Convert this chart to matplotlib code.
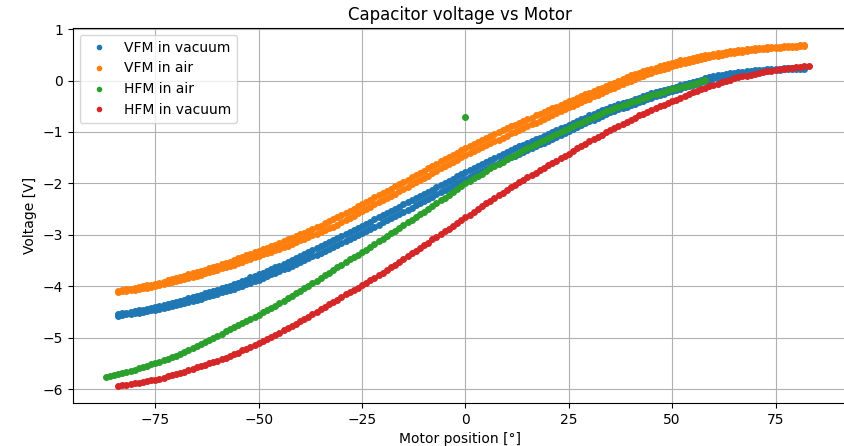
import matplotlib.pyplot as plt
import numpy as np

# motor positions [deg], scans were taken in 1 degree steps
pos_vfm = np.arange(-84, 83)
pos_hfm_air = np.arange(-87, 59)
pos_hfm_vac = np.arange(-84, 84)

# VFM in vacuum, up and down sweep (small hysteresis between them)
vfm_vac_up = [
    -4.55, -4.53, -4.52, -4.50, -4.49, -4.47, -4.46, -4.44, -4.43, -4.41,
    -4.39, -4.37, -4.34, -4.32, -4.30, -4.28, -4.26, -4.23, -4.21, -4.19,
    -4.17, -4.14, -4.12, -4.09, -4.07, -4.04, -4.01, -3.99, -3.96, -3.93,
    -3.90, -3.87, -3.83, -3.80, -3.77, -3.74, -3.70, -3.67, -3.63, -3.60,
    -3.56, -3.52, -3.49, -3.45, -3.41, -3.37, -3.33, -3.30, -3.26, -3.22,
    -3.18, -3.14, -3.10, -3.06, -3.02, -2.98, -2.94, -2.91, -2.87, -2.83,
    -2.79, -2.75, -2.70, -2.66, -2.62, -2.58, -2.54, -2.49, -2.45, -2.41,
    -2.37, -2.33, -2.28, -2.24, -2.20, -2.16, -2.12, -2.07, -2.03, -1.99,
    -1.95, -1.91, -1.86, -1.82, -1.78, -1.74, -1.70, -1.66, -1.62, -1.58,
    -1.54, -1.50, -1.47, -1.43, -1.39, -1.35, -1.32, -1.28, -1.25, -1.21,
    -1.18, -1.14, -1.11, -1.07, -1.04, -1.00, -0.97, -0.93, -0.90, -0.86,
    -0.82, -0.79, -0.75, -0.72, -0.68, -0.65, -0.62, -0.58, -0.55, -0.52,
    -0.49, -0.46, -0.44, -0.41, -0.39, -0.36, -0.33, -0.30, -0.28, -0.25,
    -0.23, -0.21, -0.18, -0.16, -0.14, -0.12, -0.09, -0.07, -0.04, -0.02,
    0.00, 0.02, 0.05, 0.07, 0.09, 0.10, 0.11, 0.13, 0.14, 0.15,
    0.16, 0.17, 0.18, 0.19, 0.20, 0.21, 0.21, 0.22, 0.22, 0.23,
    0.23, 0.24, 0.24, 0.25, 0.25, 0.25, 0.25]
vfm_vac_down = [
    -4.57, -4.56, -4.55, -4.54, -4.53, -4.52, -4.50, -4.49, -4.47, -4.46,
    -4.44, -4.42, -4.40, -4.38, -4.36, -4.34, -4.32, -4.30, -4.28, -4.26,
    -4.24, -4.21, -4.19, -4.17, -4.15, -4.12, -4.10, -4.07, -4.05, -4.02,
    -3.99, -3.96, -3.93, -3.90, -3.87, -3.84, -3.80, -3.77, -3.74, -3.71,
    -3.67, -3.64, -3.60, -3.57, -3.53, -3.49, -3.46, -3.42, -3.39, -3.35,
    -3.31, -3.27, -3.24, -3.20, -3.16, -3.12, -3.08, -3.05, -3.01, -2.97,
    -2.93, -2.89, -2.84, -2.80, -2.76, -2.72, -2.68, -2.63, -2.59, -2.55,
    -2.51, -2.47, -2.42, -2.38, -2.34, -2.30, -2.26, -2.21, -2.17, -2.13,
    -2.09, -2.05, -2.00, -1.96, -1.92, -1.88, -1.84, -1.80, -1.76, -1.72,
    -1.68, -1.64, -1.61, -1.57, -1.53, -1.49, -1.46, -1.42, -1.39, -1.35,
    -1.31, -1.28, -1.24, -1.21, -1.17, -1.13, -1.09, -1.06, -1.02, -0.98,
    -0.94, -0.90, -0.87, -0.83, -0.79, -0.76, -0.72, -0.69, -0.65, -0.62,
    -0.59, -0.56, -0.54, -0.51, -0.48, -0.45, -0.42, -0.39, -0.36, -0.33,
    -0.31, -0.28, -0.26, -0.23, -0.21, -0.18, -0.16, -0.13, -0.11, -0.08,
    -0.06, -0.03, -0.01, 0.02, 0.04, 0.05, 0.07, 0.08, 0.10, 0.11,
    0.12, 0.13, 0.15, 0.16, 0.17, 0.18, 0.19, 0.19, 0.20, 0.21,
    0.21, 0.22, 0.22, 0.23, 0.23, 0.23, 0.23]

# VFM in air, up and down sweep
vfm_air_up = [
    -4.09, -4.08, -4.06, -4.05, -4.03, -4.01, -4.00, -3.98, -3.97, -3.95,
    -3.93, -3.91, -3.88, -3.86, -3.84, -3.82, -3.80, -3.77, -3.75, -3.73,
    -3.70, -3.68, -3.65, -3.63, -3.60, -3.57, -3.55, -3.52, -3.49, -3.46,
    -3.43, -3.40, -3.37, -3.34, -3.31, -3.28, -3.25, -3.22, -3.19, -3.16,
    -3.13, -3.09, -3.06, -3.02, -2.99, -2.96, -2.92, -2.89, -2.85, -2.82,
    -2.78, -2.74, -2.70, -2.66, -2.62, -2.58, -2.53, -2.49, -2.44, -2.40,
    -2.36, -2.32, -2.27, -2.23, -2.19, -2.15, -2.10, -2.06, -2.01, -1.97,
    -1.93, -1.88, -1.84, -1.79, -1.75, -1.71, -1.66, -1.62, -1.57, -1.53,
    -1.49, -1.44, -1.40, -1.35, -1.31, -1.27, -1.23, -1.20, -1.16, -1.12,
    -1.08, -1.04, -1.01, -0.97, -0.93, -0.89, -0.86, -0.82, -0.79, -0.75,
    -0.72, -0.68, -0.65, -0.61, -0.58, -0.54, -0.51, -0.47, -0.44, -0.40,
    -0.37, -0.33, -0.30, -0.27, -0.24, -0.21, -0.17, -0.14, -0.10, -0.07,
    -0.04, -0.01, 0.03, 0.06, 0.10, 0.12, 0.15, 0.18, 0.20, 0.23,
    0.25, 0.28, 0.30, 0.33, 0.35, 0.37, 0.39, 0.40, 0.42, 0.44,
    0.46, 0.47, 0.49, 0.50, 0.52, 0.53, 0.54, 0.56, 0.57, 0.58,
    0.59, 0.60, 0.61, 0.62, 0.63, 0.64, 0.64, 0.65, 0.65, 0.66,
    0.66, 0.67, 0.67, 0.68, 0.68, 0.69, 0.69]
vfm_air_down = [
    -4.11, -4.10, -4.09, -4.08, -4.07, -4.06, -4.04, -4.03, -4.01, -4.00,
    -3.98, -3.96, -3.94, -3.92, -3.90, -3.88, -3.86, -3.84, -3.82, -3.80,
    -3.78, -3.75, -3.73, -3.70, -3.68, -3.65, -3.63, -3.60, -3.58, -3.55,
    -3.52, -3.49, -3.47, -3.44, -3.41, -3.38, -3.35, -3.33, -3.30, -3.27,
    -3.24, -3.21, -3.17, -3.14, -3.11, -3.08, -3.05, -3.01, -2.98, -2.95,
    -2.91, -2.87, -2.84, -2.80, -2.76, -2.72, -2.67, -2.63, -2.58, -2.54,
    -2.50, -2.46, -2.41, -2.37, -2.33, -2.29, -2.24, -2.20, -2.15, -2.11,
    -2.07, -2.02, -1.98, -1.93, -1.89, -1.85, -1.80, -1.76, -1.71, -1.67,
    -1.63, -1.58, -1.54, -1.49, -1.45, -1.41, -1.37, -1.34, -1.30, -1.26,
    -1.22, -1.18, -1.15, -1.11, -1.07, -1.03, -1.00, -0.96, -0.93, -0.89,
    -0.85, -0.82, -0.78, -0.75, -0.71, -0.67, -0.63, -0.60, -0.56, -0.52,
    -0.49, -0.45, -0.42, -0.38, -0.35, -0.31, -0.28, -0.24, -0.21, -0.17,
    -0.14, -0.10, -0.07, -0.03, 0.00, 0.03, 0.06, 0.09, 0.12, 0.15,
    0.18, 0.20, 0.23, 0.25, 0.28, 0.30, 0.32, 0.34, 0.36, 0.38,
    0.40, 0.42, 0.43, 0.45, 0.47, 0.48, 0.50, 0.51, 0.53, 0.54,
    0.55, 0.56, 0.58, 0.59, 0.60, 0.61, 0.61, 0.62, 0.63, 0.64,
    0.64, 0.65, 0.65, 0.66, 0.66, 0.67, 0.67]

# HFM in air
hfm_air = [
    -5.77, -5.75, -5.73,
    -5.71, -5.69, -5.66, -5.64, -5.62, -5.60, -5.57, -5.55, -5.52, -5.50,
    -5.47, -5.44, -5.41, -5.38, -5.35, -5.31, -5.28, -5.24, -5.21, -5.17,
    -5.13, -5.09, -5.04, -5.00, -4.96, -4.92, -4.88, -4.84, -4.80, -4.76,
    -4.72, -4.68, -4.64, -4.60, -4.56, -4.51, -4.47, -4.42, -4.38, -4.33,
    -4.28, -4.23, -4.19, -4.14, -4.09, -4.04, -3.99, -3.94, -3.89, -3.84,
    -3.79, -3.74, -3.68, -3.63, -3.58, -3.53, -3.48, -3.44, -3.39, -3.34,
    -3.29, -3.24, -3.18, -3.13, -3.08, -3.03, -2.97, -2.92, -2.86, -2.81,
    -2.76, -2.71, -2.65, -2.60, -2.55, -2.50, -2.44, -2.39, -2.33, -2.28,
    -2.22, -2.17, -2.11, -2.06, -2.00, -1.95, -1.90, -1.86, -1.81, -1.76,
    -1.71, -1.67, -1.62, -1.58, -1.53, -1.49, -1.45, -1.40, -1.36, -1.32,
    -1.28, -1.24, -1.20, -1.16, -1.12, -1.08, -1.04, -1.01, -0.97, -0.93,
    -0.89, -0.85, -0.82, -0.78, -0.74, -0.71, -0.67, -0.64, -0.60, -0.57,
    -0.54, -0.51, -0.48, -0.45, -0.42, -0.39, -0.37, -0.34, -0.32, -0.29,
    -0.27, -0.24, -0.22, -0.19, -0.17, -0.15, -0.13, -0.10, -0.08, -0.06,
    -0.04, -0.01, 0.01]
# one stray reading in the HFM air scan
hfm_air_stray_pos = [0]
hfm_air_stray = [-0.70]

# HFM in vacuum
hfm_vac = [
    -5.94, -5.93, -5.92, -5.90, -5.89, -5.88, -5.86, -5.85, -5.83, -5.82,
    -5.80, -5.78, -5.75, -5.73, -5.71, -5.68, -5.66, -5.63, -5.61, -5.58,
    -5.55, -5.53, -5.50, -5.48, -5.45, -5.42, -5.39, -5.35, -5.32, -5.29,
    -5.25, -5.22, -5.18, -5.15, -5.11, -5.07, -5.03, -4.99, -4.95, -4.91,
    -4.86, -4.82, -4.77, -4.73, -4.68, -4.63, -4.59, -4.54, -4.50, -4.45,
    -4.40, -4.35, -4.31, -4.26, -4.21, -4.16, -4.12, -4.07, -4.03, -3.98,
    -3.93, -3.88, -3.84, -3.79, -3.74, -3.69, -3.63, -3.58, -3.52, -3.47,
    -3.42, -3.36, -3.31, -3.25, -3.20, -3.15, -3.09, -3.04, -2.98, -2.93,
    -2.88, -2.82, -2.77, -2.71, -2.66, -2.61, -2.55, -2.50, -2.44, -2.39,
    -2.34, -2.29, -2.23, -2.18, -2.13, -2.08, -2.03, -1.98, -1.93, -1.88,
    -1.83, -1.79, -1.74, -1.70, -1.65, -1.60, -1.56, -1.51, -1.47, -1.42,
    -1.37, -1.32, -1.28, -1.23, -1.18, -1.14, -1.09, -1.05, -1.00, -0.96,
    -0.92, -0.88, -0.84, -0.80, -0.76, -0.72, -0.68, -0.65, -0.61, -0.57,
    -0.54, -0.50, -0.47, -0.43, -0.40, -0.37, -0.33, -0.30, -0.26, -0.23,
    -0.20, -0.17, -0.14, -0.11, -0.08, -0.06, -0.03, -0.01, 0.02, 0.04,
    0.06, 0.08, 0.09, 0.11, 0.13, 0.15, 0.16, 0.18, 0.19, 0.21,
    0.22, 0.23, 0.24, 0.25, 0.26, 0.27, 0.28, 0.29]

fig = plt.figure(figsize=(8.44, 4.46), dpi=100)
# right spine falls just outside the saved picture, as in the original crop
ax = fig.add_axes([0.0861, 0.0964, 0.9170, 0.8408])

ms = 8
ax.plot(np.concatenate([pos_vfm, pos_vfm]), vfm_vac_up + vfm_vac_down, '.', ms=ms, label='VFM in vacuum')
ax.plot(np.concatenate([pos_vfm, pos_vfm]), vfm_air_up + vfm_air_down, '.', ms=ms, label='VFM in air')
ax.plot(np.concatenate([pos_hfm_air, hfm_air_stray_pos]), hfm_air + hfm_air_stray, '.', ms=ms, label='HFM in air')
ax.plot(pos_hfm_vac, hfm_vac, '.', ms=ms, label='HFM in vacuum')
ax.set_xlim(-95, 92.2)

ax.set_title('Capacitor voltage vs Motor')
ax.set_xlabel('Motor position [°]')
ax.set_ylabel('Voltage [V]')
ax.grid(True)
ax.legend(loc='upper left', markerscale=6 / ms)

fig.savefig('out.png', dpi=100)
